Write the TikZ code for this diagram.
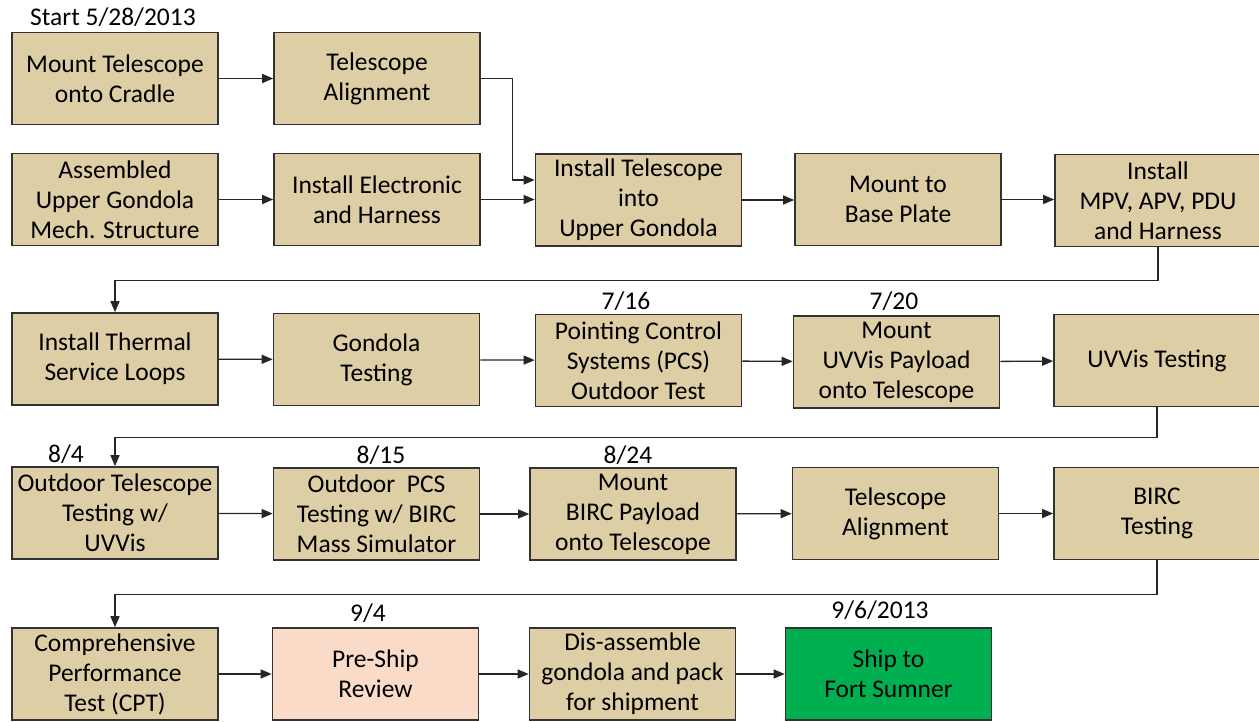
\documentclass[tikz,border=0pt]{standalone}
\usepackage{fontspec}
\setmainfont{Carlito}
\usetikzlibrary{arrows.meta}
\definecolor{tan}{RGB}{221,206,166}
\definecolor{pink}{RGB}{249,219,200}
\definecolor{shipgreen}{RGB}{0,176,80}
\definecolor{edge}{RGB}{50,50,50}
\tikzset{
  stepbox/.style={draw=edge, line width=1.6pt, fill=tan, minimum width=206pt, minimum height=92pt,
     inner sep=0pt, align=center, font=\fontsize{25.5}{30}\selectfont},
  datelbl/.style={font=\fontsize{25.5}{30}\selectfont, inner sep=0pt},
  arr/.style={draw=black!85, line width=1.3pt, -{Triangle[length=11pt,width=9pt]}},
}
\begin{document}
\begin{tikzpicture}[x=1pt,y=-1pt]
\useasboundingbox (0,0) rectangle (1259,721);
\clip (0,0) rectangle (1259,721);
% row 1
\node[stepbox] (m1) at (115,78.5) {Mount Telescope\\onto Cradle};
\node[stepbox] (m2) at (377,78.5) {Telescope\\Alignment};
% row 2
\node[stepbox] (a1) at (115,199.5) {Assembled\\Upper Gondola\\Mech. Structure};
\node[stepbox] (a2) at (377,199.5) {Install Electronic\\and Harness};
\node[stepbox] (a3) at (638.5,200) {Install Telescope\\into\\Upper Gondola};
\node[stepbox] (a4) at (898,199.5) {Mount to\\Base Plate};
\node[stepbox] (a5) at (1158,200.5) {Install\\MPV, APV, PDU\\and Harness};
% row 3
\node[stepbox] (b1) at (115,359) {Install Thermal\\Service Loops};
\node[stepbox] (b2) at (376.5,359.5) {Gondola\\Testing};
\node[stepbox] (b3) at (638.5,360.5) {Pointing Control\\Systems (PCS)\\Outdoor Test};
\node[stepbox] (b4) at (896.5,362) {Mount\\UVVis Payload\\onto Telescope};
\node[stepbox] (b5) at (1157,360.5) {UVVis Testing};
% row 4
\node[stepbox] (c1) at (115,513) {Outdoor Telescope\\Testing w/\\UVVis};
\node[stepbox] (c2) at (376.5,514) {Outdoor\ \ PCS\\Testing w/ BIRC\\Mass Simulator};
\node[stepbox] (c3) at (633,514) {Mount\\BIRC Payload\\onto Telescope};
\node[stepbox] (c4) at (895.5,513.5) {Telescope\\Alignment};
\node[stepbox] (c5) at (1157,513.5) {BIRC\\Testing};
% row 5
\node[stepbox] (d1) at (115,674) {Comprehensive\\Performance\\Test (CPT)};
\node[stepbox, fill=pink] (d2) at (375.5,674) {Pre-Ship\\Review};
\node[stepbox] (d3) at (632.5,674) {Dis-assemble\\gondola and pack\\for shipment};
\node[stepbox, fill=shipgreen] (d4) at (888.5,674) {Ship to\\Fort Sumner};
% date labels
\node[datelbl] (l0) at (113,17) {Start 5/28/2013};
\node[datelbl] (l1) at (626,301) {7/16};
\node[datelbl] (l2) at (894,301) {7/20};
\node[datelbl] (l3) at (66,454) {8/4};
\node[datelbl] (l4) at (381,455) {8/15};
\node[datelbl] (l5) at (628,455) {8/24};
\node[datelbl] (l6) at (368,613) {9/4};
\node[datelbl] (l7) at (880,610) {9/6/2013};
% connectors
\draw[arr] (m1) -- (m2);
\draw[arr] (m2.east) -- ++(32,0) |- ([yshift=20pt]a3.west);
\draw[arr] (a1) -- (a2);
\draw[arr] (a2.east) -- (a3.west |- a2.east);
\draw[arr] (a3.east) -- (a4.west |- a3.east);
\draw[arr] (a4.east) -- (a5.west |- a4.east);
\draw[arr] (a5.south) -- ++(0,33) -| (b1.north);
\draw[arr] (b1) -- (b2);
\draw[arr] (b2) -- (b3);
\draw[arr] (b3) -- (b4);
\draw[arr] (b4) -- (b5);
\draw[arr] (b5.south) -- ++(0,30) -| (c1.north);
\draw[arr] (c1) -- (c2);
\draw[arr] (c2) -- (c3);
\draw[arr] (c3) -- (c4);
\draw[arr] (c4) -- (c5);
\draw[arr] (c5.south) -- ++(0,34.5) -| (d1.north);
\draw[arr] (d1) -- (d2);
\draw[arr] (d2) -- (d3);
\draw[arr] (d3) -- (d4);
\end{tikzpicture}
\end{document}
